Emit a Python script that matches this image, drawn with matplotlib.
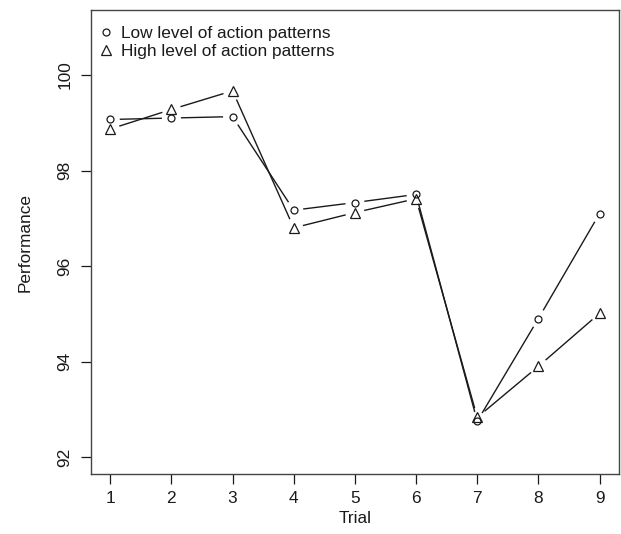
import matplotlib
matplotlib.use("Agg")
import matplotlib.pyplot as plt
import numpy as np

plt.rcParams['font.family'] = ['Liberation Sans', 'DejaVu Sans']

# data
trials = [1, 2, 3, 4, 5, 6, 7, 8, 9]
low_level = [99.07, 99.10, 99.13, 97.17, 97.33, 97.50, 92.75, 94.90, 97.10]
high_level = [98.87, 99.28, 99.67, 96.80, 97.12, 97.41, 92.83, 93.90, 95.01]
series_labels = ["Low level of action patterns", "High level of action patterns"]
y_ticks = [92, 94, 96, 98, 100]

ink = '#1a1a1a'
fs = 12.4

fig = plt.figure(figsize=(6.21, 5.34), dpi=100)
ax = fig.add_axes([0.146, 0.112, 0.851, 0.869])
ax.set_xlim(0.68, 9.32)
ax.set_ylim(91.64, 101.36)


def broken_line(xs, ys, gap_px=9.5):
    # R style type="b": line segments stop short of each point
    trans = ax.transData
    inv = trans.inverted()
    pts = trans.transform(np.column_stack([xs, ys]))
    for p0, p1 in zip(pts[:-1], pts[1:]):
        d = p1 - p0
        n = np.hypot(*d)
        if n <= 2 * gap_px:
            continue
        u = d / n
        a = inv.transform(p0 + u * gap_px)
        b = inv.transform(p1 - u * gap_px)
        ax.plot([a[0], b[0]], [a[1], b[1]], color=ink, lw=1.0,
                solid_capstyle='butt')


broken_line(trials, low_level)
broken_line(trials, high_level)

ax.plot(trials, low_level, linestyle='none', marker='o', ms=5,
        mfc='none', mec=ink, mew=0.9, label=series_labels[0])
ax.plot(trials, high_level, linestyle='none', marker='^', ms=7.5,
        mfc='none', mec=ink, mew=0.9, label=series_labels[1])

ax.set_xticks(trials)
ax.set_yticks(y_ticks)
ax.set_xticklabels([str(t) for t in trials])
ax.set_yticklabels([str(v) for v in y_ticks], rotation=90, va='center')
ax.tick_params(axis='both', length=7, width=0.9, color=ink,
               labelsize=fs, labelcolor=ink)
ax.tick_params(axis='x', pad=5)
ax.tick_params(axis='y', pad=6)

for s in ax.spines.values():
    s.set_color('#444444')
    s.set_linewidth(1.0)

ax.set_xlabel("Trial", fontsize=fs, color=ink, labelpad=4)
ax.set_ylabel("Performance", fontsize=fs, color=ink, labelpad=18)

ax.legend(loc='upper left', bbox_to_anchor=(-0.014, 1.0), frameon=False,
          fontsize=fs, handlelength=0.8, handletextpad=0.5,
          labelspacing=0.2, borderaxespad=0.6, borderpad=0.3,
          labelcolor=ink)

fig.savefig("out.png", dpi=100, facecolor='white')
